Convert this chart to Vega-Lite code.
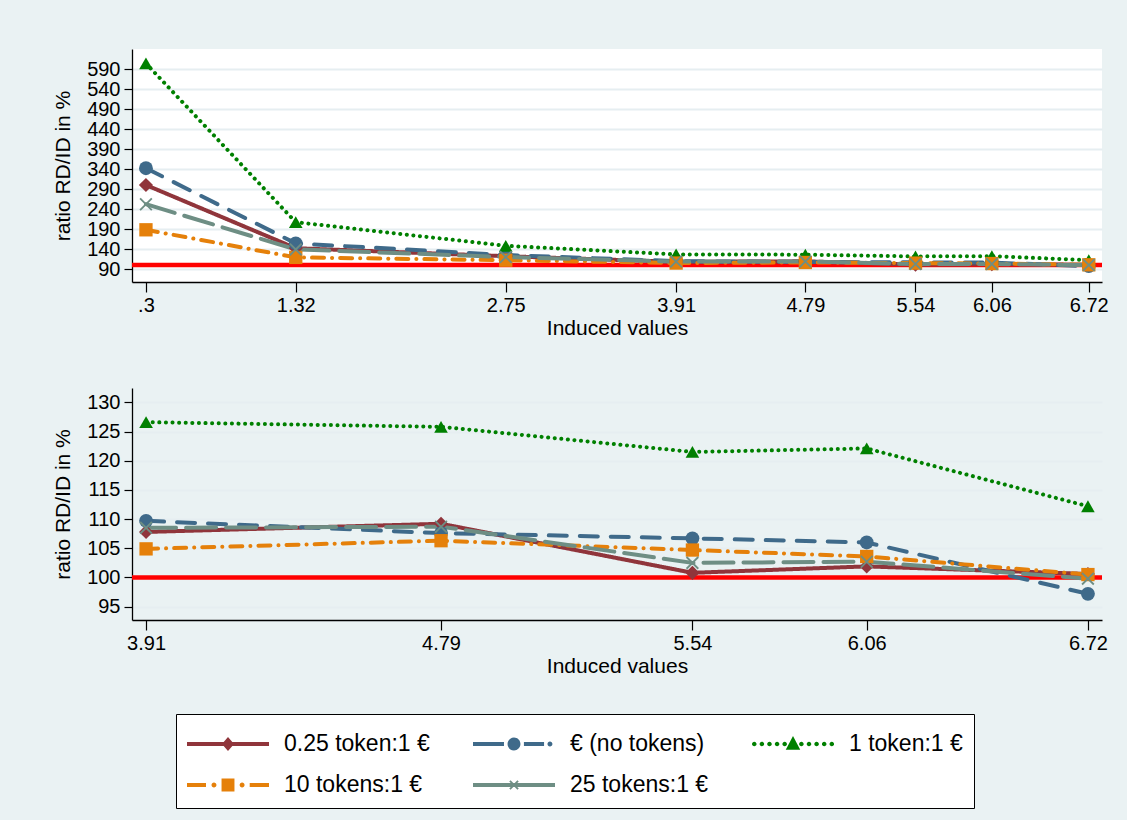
{
  "$schema": "https://vega.github.io/schema/vega-lite/v6.json",
  "background": "#EAF2F3",
  "padding": {"left": 52, "top": 49, "right": 18, "bottom": 11},
  "spacing": 50,
  "datasets": {
    "ratios": [
      {"x": 0.3, "y": 300, "series": "0.25 token:1 €"},
      {"x": 1.32, "y": 142, "series": "0.25 token:1 €"},
      {"x": 2.75, "y": 122, "series": "0.25 token:1 €"},
      {"x": 3.91, "y": 107.8, "series": "0.25 token:1 €"},
      {"x": 4.79, "y": 109.2, "series": "0.25 token:1 €"},
      {"x": 5.54, "y": 100.8, "series": "0.25 token:1 €"},
      {"x": 6.06, "y": 101.9, "series": "0.25 token:1 €"},
      {"x": 6.72, "y": 100.6, "series": "0.25 token:1 €"},
      {"x": 0.3, "y": 342, "series": "€ (no tokens)"},
      {"x": 1.32, "y": 154, "series": "€ (no tokens)"},
      {"x": 2.75, "y": 125, "series": "€ (no tokens)"},
      {"x": 3.91, "y": 109.7, "series": "€ (no tokens)"},
      {"x": 4.79, "y": 107.6, "series": "€ (no tokens)"},
      {"x": 5.54, "y": 106.7, "series": "€ (no tokens)"},
      {"x": 6.06, "y": 106.0, "series": "€ (no tokens)"},
      {"x": 6.72, "y": 97.2, "series": "€ (no tokens)"},
      {"x": 0.3, "y": 604, "series": "1 token:1 €"},
      {"x": 1.32, "y": 207, "series": "1 token:1 €"},
      {"x": 2.75, "y": 148, "series": "1 token:1 €"},
      {"x": 3.91, "y": 126.6, "series": "1 token:1 €"},
      {"x": 4.79, "y": 125.8, "series": "1 token:1 €"},
      {"x": 5.54, "y": 121.5, "series": "1 token:1 €"},
      {"x": 6.06, "y": 122.1, "series": "1 token:1 €"},
      {"x": 6.72, "y": 112.2, "series": "1 token:1 €"},
      {"x": 0.3, "y": 188, "series": "10 tokens:1 €"},
      {"x": 1.32, "y": 119, "series": "10 tokens:1 €"},
      {"x": 2.75, "y": 112, "series": "10 tokens:1 €"},
      {"x": 3.91, "y": 104.9, "series": "10 tokens:1 €"},
      {"x": 4.79, "y": 106.3, "series": "10 tokens:1 €"},
      {"x": 5.54, "y": 104.7, "series": "10 tokens:1 €"},
      {"x": 6.06, "y": 103.6, "series": "10 tokens:1 €"},
      {"x": 6.72, "y": 100.5, "series": "10 tokens:1 €"},
      {"x": 0.3, "y": 252, "series": "25 tokens:1 €"},
      {"x": 1.32, "y": 139, "series": "25 tokens:1 €"},
      {"x": 2.75, "y": 120, "series": "25 tokens:1 €"},
      {"x": 3.91, "y": 108.5, "series": "25 tokens:1 €"},
      {"x": 4.79, "y": 108.7, "series": "25 tokens:1 €"},
      {"x": 5.54, "y": 102.5, "series": "25 tokens:1 €"},
      {"x": 6.06, "y": 102.7, "series": "25 tokens:1 €"},
      {"x": 6.72, "y": 99.8, "series": "25 tokens:1 €"}
    ]
  },
  "config": {
    "font": "Liberation Sans",
    "view": {"fill": "white", "stroke": null},
    "axis": {
      "labelFont": "Liberation Sans", "titleFont": "Liberation Sans",
      "labelFontSize": 20, "titleFontSize": 21, "titleFontWeight": "normal",
      "labelColor": "black", "titleColor": "black",
      "domainColor": "black", "domainWidth": 1.3,
      "tickColor": "black", "tickWidth": 1.2,
      "gridColor": "#E6EEF1", "gridWidth": 2,
      "labelOverlap": false, "labelFlush": false, "tickCount": 30
    },
    "axisX": {"grid": false, "tickSize": 10, "labelPadding": 3, "titlePadding": 2},
    "axisY": {"grid": true, "tickSize": 8, "labelPadding": 4, "titlePadding": 13},
    "legend": {
      "symbolSize": 1444, "symbolStrokeWidth": 0,
      "labelFont": "Liberation Sans", "labelFontSize": 23, "labelColor": "black",
      "labelOffset": 59, "labelLimit": 400,
      "columns": 3, "direction": "horizontal", "columnPadding": 43, "rowPadding": 10,
      "strokeColor": "black", "fillColor": "white", "padding": 11,
      "symbolOpacity": 1
    }
  },
  "resolve": {
    "scale": {"color": "independent", "shape": "independent", "strokeDash": "independent", "size": "independent"},
    "legend": {"color": "independent", "shape": "independent"}
  },
  "vconcat": [
    {
      "width": 970,
      "height": 233,
      "data": {"name": "ratios"},
      "layer": [
        {
          "data": {"values": [{}]},
          "mark": {"type": "rule", "color": "#FF0000", "strokeWidth": 4.5},
          "encoding": {"y": {"datum": 100, "type": "quantitative"}}
        },
        {
          "mark": {"type": "line", "strokeWidth": 4, "strokeCap": "round", "strokeJoin": "round"},
          "encoding": {
            "x": {"field": "x", "type": "quantitative",
              "scale": {"domain": [0.205, 6.81], "nice": false, "zero": false},
              "axis": {"values": [0.3, 1.32, 2.75, 3.91, 4.79, 5.54, 6.06, 6.72],
                "labelExpr": "datum.value < 1 ? substring(toString(datum.value), 1) : toString(datum.value)",
                "labelOverlap": false, "tickCount": 30,
                "title": "Induced values"}},
            "y": {"field": "y", "type": "quantitative",
              "scale": {"domain": [57.5, 640], "nice": false, "zero": false},
              "axis": {"values": [90, 140, 190, 240, 290, 340, 390, 440, 490, 540, 590], "tickCount": 30, "labelOverlap": false, "format": "d", "title": "ratio RD/ID in %"}},
            "color": {"field": "series", "type": "nominal", "legend": null,
              "scale": {"domain": ["0.25 token:1 €", "€ (no tokens)", "1 token:1 €", "10 tokens:1 €", "25 tokens:1 €"],
                "range": ["#90353B", "#3F6A8A", "#008000", "#E5800A", "#6E8E84"]}},
            "strokeDash": {"field": "series", "type": "nominal", "legend": null,
              "scale": {"domain": ["0.25 token:1 €", "€ (no tokens)", "1 token:1 €", "10 tokens:1 €", "25 tokens:1 €"],
                "range": [[1, 0], [18, 13], [0.1, 6.5], [12, 8, 0.1, 8], [30, 10]]}}
          }
        },
        {
          "mark": {"type": "point", "filled": true, "opacity": 1},
          "encoding": {
            "x": {"field": "x", "type": "quantitative"},
            "y": {"field": "y", "type": "quantitative"},
            "color": {"field": "series", "type": "nominal", "legend": null,
              "scale": {"domain": ["0.25 token:1 €", "€ (no tokens)", "1 token:1 €", "10 tokens:1 €", "25 tokens:1 €"],
                "range": ["#90353B", "#3F6A8A", "#008000", "#E5800A", "#6E8E84"]}},
            "shape": {"field": "series", "type": "nominal", "legend": null,
              "scale": {"domain": ["0.25 token:1 €", "€ (no tokens)", "1 token:1 €", "10 tokens:1 €", "25 tokens:1 €"],
                "range": ["diamond", "circle", "triangle-up", "square", "M-1,-0.8L-0.8,-1L1,0.8L0.8,1Z M-1,0.8L0.8,-1L1,-0.8L-0.8,1Z"]}},
            "size": {"field": "series", "type": "nominal", "legend": null,
              "scale": {"domain": ["0.25 token:1 €", "€ (no tokens)", "1 token:1 €", "10 tokens:1 €", "25 tokens:1 €"],
                "range": [200, 170, 210, 160, 110]}}
          }
        }
      ]
    },
    {
      "width": 970,
      "height": 232,
      "data": {"name": "ratios"},
      "transform": [{"filter": "datum.x > 3.5"}],
      "resolve": {"scale": {"color": "independent", "shape": "independent", "size": "independent", "strokeDash": "independent"}},
      "layer": [
        {
          "data": {"values": [{}]},
          "mark": {"type": "rule", "color": "#FF0000", "strokeWidth": 4.5},
          "encoding": {"y": {"datum": 100, "type": "quantitative"}}
        },
        {
          "mark": {"type": "line", "strokeWidth": 4, "strokeCap": "round", "strokeJoin": "round"},
          "encoding": {
            "x": {"field": "x", "type": "quantitative",
              "scale": {"domain": [3.868, 6.762], "nice": false, "zero": false},
              "axis": {"values": [3.91, 4.79, 5.54, 6.06, 6.72], "tickCount": 30, "format": ".2f", "labelOverlap": false, "title": "Induced values"}},
            "y": {"field": "y", "type": "quantitative",
              "scale": {"domain": [92.72, 132.45], "nice": false, "zero": false},
              "axis": {"values": [95, 100, 105, 110, 115, 120, 125, 130], "tickCount": 30, "format": "d", "labelOverlap": false, "title": "ratio RD/ID in %"}},
            "color": {"field": "series", "type": "nominal", "legend": null,
              "scale": {"domain": ["0.25 token:1 €", "€ (no tokens)", "1 token:1 €", "10 tokens:1 €", "25 tokens:1 €"],
                "range": ["#90353B", "#3F6A8A", "#008000", "#E5800A", "#6E8E84"]}},
            "strokeDash": {"field": "series", "type": "nominal", "legend": null,
              "scale": {"domain": ["0.25 token:1 €", "€ (no tokens)", "1 token:1 €", "10 tokens:1 €", "25 tokens:1 €"],
                "range": [[1, 0], [18, 13], [0.1, 6.5], [12, 8, 0.1, 8], [30, 10]]}}
          }
        },
        {
          "mark": {"type": "point", "filled": true, "opacity": 1},
          "encoding": {
            "x": {"field": "x", "type": "quantitative"},
            "y": {"field": "y", "type": "quantitative"},
            "color": {"field": "series", "type": "nominal", "legend": null,
              "scale": {"domain": ["0.25 token:1 €", "€ (no tokens)", "1 token:1 €", "10 tokens:1 €", "25 tokens:1 €"],
                "range": ["#90353B", "#3F6A8A", "#008000", "#E5800A", "#6E8E84"]}},
            "shape": {"field": "series", "type": "nominal", "legend": null,
              "scale": {"domain": ["0.25 token:1 €", "€ (no tokens)", "1 token:1 €", "10 tokens:1 €", "25 tokens:1 €"],
                "range": ["diamond", "circle", "triangle-up", "square", "M-1,-0.8L-0.8,-1L1,0.8L0.8,1Z M-1,0.8L0.8,-1L1,-0.8L-0.8,1Z"]}},
            "size": {"field": "series", "type": "nominal", "legend": null,
              "scale": {"domain": ["0.25 token:1 €", "€ (no tokens)", "1 token:1 €", "10 tokens:1 €", "25 tokens:1 €"],
                "range": [200, 170, 210, 160, 110]}}
          }
        },
        {
          "transform": [{"filter": "false"}],
          "mark": {"type": "point", "filled": true, "opacity": 1},
          "encoding": {
            "color": {"field": "series", "type": "nominal",
              "legend": {"title": null, "orient": "none", "legendX": 44, "legendY": 326, "columns": 3, "direction": "horizontal"},
              "scale": {"domain": ["0.25 token:1 €", "€ (no tokens)", "1 token:1 €", "10 tokens:1 €", "25 tokens:1 €"],
                "range": ["#90353B", "#3F6A8A", "#008000", "#E5800A", "#6E8E84"]}},
            "shape": {"field": "series", "type": "nominal",
              "legend": {"title": null, "orient": "none", "legendX": 44, "legendY": 326, "columns": 3, "direction": "horizontal"},
              "scale": {"domain": ["0.25 token:1 €", "€ (no tokens)", "1 token:1 €", "10 tokens:1 €", "25 tokens:1 €"],
                "range": [
                  "M-1,-0.105H3.316V0.105H-1Z M0.84,0L1.158,-0.37L1.476,0L1.158,0.37Z",
                  "M-1,-0.105H0.63V0.105H-1Z M0.818,0A0.34,0.34 0 1,1 1.498,0A0.34,0.34 0 1,1 0.818,0Z M1.68,-0.105H2.74V0.105H1.68Z M2.92,0A0.13,0.13 0 1,1 3.18,0A0.13,0.13 0 1,1 2.92,0Z",
                  "M-1,0A0.12,0.12 0 1,1 -0.76,0A0.12,0.12 0 1,1 -1,0Z M-0.6,0A0.12,0.12 0 1,1 -0.36,0A0.12,0.12 0 1,1 -0.6,0Z M-0.2,0A0.12,0.12 0 1,1 0.04,0A0.12,0.12 0 1,1 -0.2,0Z M0.2,0A0.12,0.12 0 1,1 0.44,0A0.12,0.12 0 1,1 0.2,0Z M0.6,0A0.12,0.12 0 1,1 0.84,0A0.12,0.12 0 1,1 0.6,0Z M1.48,0A0.12,0.12 0 1,1 1.72,0A0.12,0.12 0 1,1 1.48,0Z M1.88,0A0.12,0.12 0 1,1 2.12,0A0.12,0.12 0 1,1 1.88,0Z M2.28,0A0.12,0.12 0 1,1 2.52,0A0.12,0.12 0 1,1 2.28,0Z M2.68,0A0.12,0.12 0 1,1 2.92,0A0.12,0.12 0 1,1 2.68,0Z M3.08,0A0.12,0.12 0 1,1 3.32,0A0.12,0.12 0 1,1 3.08,0Z M1.158,-0.42L1.54,0.3L0.776,0.3Z",
                  "M-1,-0.105H0V0.105H-1Z M0.29,0A0.13,0.13 0 1,1 0.55,0A0.13,0.13 0 1,1 0.29,0Z M0.818,-0.34H1.498V0.34H0.818Z M1.77,0A0.13,0.13 0 1,1 2.03,0A0.13,0.13 0 1,1 1.77,0Z M2.3,-0.105H3.316V0.105H2.3Z",
                  "M-1,-0.105H3.316V0.105H-1Z M0.908,-0.18L0.978,-0.25L1.408,0.18L1.338,0.25Z M0.908,0.18L1.338,-0.25L1.408,-0.18L0.978,0.25Z"
                ]}}
          }
        }
      ]
    }
  ]
}
